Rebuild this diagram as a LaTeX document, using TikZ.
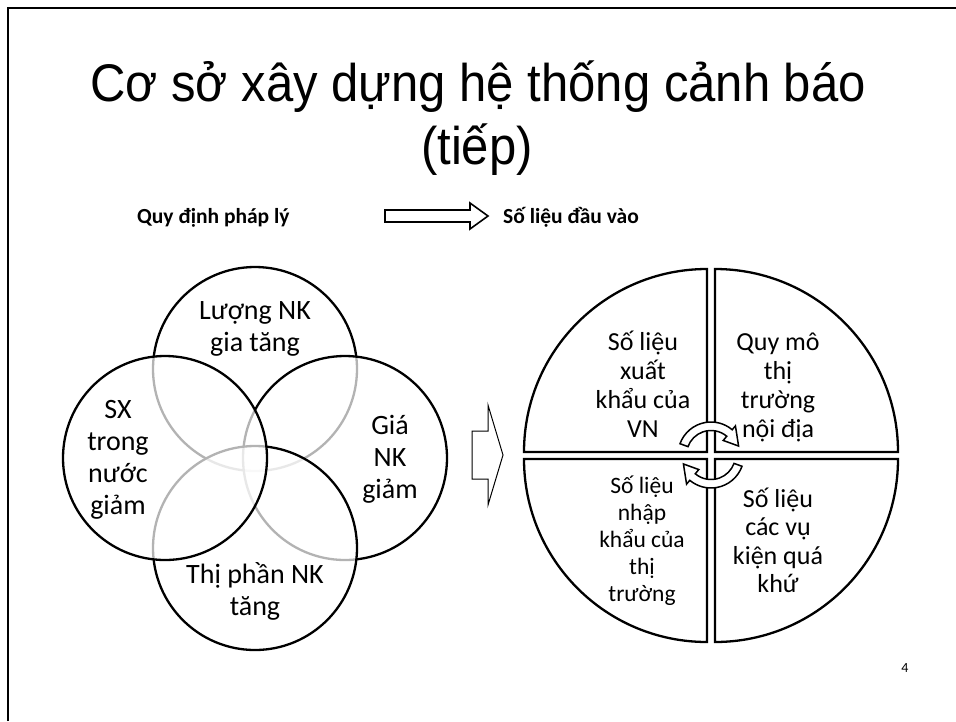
\documentclass[tikz,border=0pt]{standalone}
\usepackage{fontspec}
\setmainfont{Carlito}
\newfontfamily\titlefont{Liberation Sans}
\usetikzlibrary{calc}
\newcommand{\mlines}[1]{\parbox[t]{240pt}{\centering #1}}
\begin{document}
\begin{tikzpicture}[x=1pt,y=1pt,
 venncirc/.style={circle, draw=black, line width=2.3pt, fill=white, fill opacity=0.7, minimum size=204pt, inner sep=0pt},
 vtext/.style={anchor=base, inner sep=0pt, font=\fontsize{28}{32}\selectfont},
 qtext/.style={anchor=base, inner sep=0pt, font=\fontsize{26}{29}\selectfont},
 quad/.style={draw=black, line width=2.3pt, fill=white},
 hdr/.style={anchor=base west, inner sep=0pt, font=\bfseries\fontsize{21.5}{24}\selectfont},
 blockarrow/.style={draw=black, line width=1pt, fill=white, line join=miter},
 cyc/.style={draw=black, line width=1.5pt, fill=white, line join=miter},
 ttl/.style={anchor=base, inner sep=0pt, font=\titlefont\fontsize{53}{60}\selectfont}]
\useasboundingbox (0,0) rectangle (956,-721);
\fill[white] (0,0) rectangle (956,-721);
% frame
\draw[line width=2.5pt] (8,-721) -- (8,-8) -- (956,-8);
% title
\node[ttl] (title1) at (478,-101) {\scalebox{0.925}[1]{Cơ sở xây dựng hệ thống cảnh báo}};
\node[ttl] (title2) at (477,-164) {\scalebox{0.925}[1]{(tiếp)}};
% header
\node[hdr] (hleft) at (137,-223) {Quy định pháp lý};
\node[hdr] (hright) at (503,-223) {Số liệu đầu vào};
\draw[blockarrow, line width=1.6pt] (385,-210) -- (470,-210) -- (470,-203) -- (488,-216) -- (470,-229) -- (470,-222) -- (385,-222) -- cycle;
% venn
\node[venncirc] (ctop) at (255,-369) {};
\node[venncirc] (cright) at (345,-458) {};
\node[venncirc] (cbottom) at (255,-548) {};
\node[venncirc] (cleft) at (165,-458) {};
\node[vtext] (ttop) at (255,-319) {\mlines{Lượng NK\\gia tăng}};
\node[vtext] (tleft) at (118,-418) {\mlines{SX\\trong\\nước\\giảm}};
\node[vtext] (tright) at (390,-434) {\mlines{Giá\\NK\\giảm}};
\node[vtext] (tbottom) at (255,-583) {\mlines{Thị phần NK\\tăng}};
% middle arrow
\draw[blockarrow] (472,-431) -- (488,-431) -- (488,-405) -- (503,-455) -- (488,-505) -- (488,-479) -- (472,-479) -- cycle;
% pie quadrants
\draw[quad] (707,-452) -- ++(-183,0) arc[start angle=180, end angle=90, radius=183] -- cycle;
\draw[quad] (715,-452) -- ++(0,183) arc[start angle=90, end angle=0, radius=183] -- cycle;
\draw[quad] (707,-459) -- ++(-183,0) arc[start angle=180, end angle=270, radius=183] -- cycle;
\draw[quad] (715,-459) -- ++(183,0) arc[start angle=0, end angle=-90, radius=183] -- cycle;
\node[qtext] (qtl) at (643,-350) {\mlines{Số liệu\\xuất\\khẩu của\\VN}};
\node[qtext] (qtr) at (778,-350) {\mlines{Quy mô\\thị\\trường\\nội địa}};
\node[qtext, font=\fontsize{23.5}{27}\selectfont] (qbl) at (642,-493) {\mlines{Số liệu\\nhập\\khẩu của\\thị\\trường}};
\node[qtext, font=\fontsize{26}{28.5}\selectfont] (qbr) at (778,-507) {\mlines{Số liệu\\các vụ\\kiện quá\\khứ}};
% cycle arrows
\coordinate (pc) at (711,-455);
\draw[cyc] ($(pc)+(160:33)$) arc[start angle=160, end angle=50, radius=33] -- ($(pc)+(50:38)$) -- ($(pc)+(18:29)$) -- ($(pc)+(50:19)$) -- ($(pc)+(50:24.5)$) arc[start angle=50, end angle=160, radius=24.5] -- cycle;
\draw[cyc] ($(pc)+(-20:33)$) arc[start angle=-20, end angle=-130, radius=33] -- ($(pc)+(-130:38)$) -- ($(pc)+(-162:29)$) -- ($(pc)+(-130:19)$) -- ($(pc)+(-130:24.5)$) arc[start angle=-130, end angle=-20, radius=24.5] -- cycle;
% page number
\node[font=\fontsize{14}{16}\selectfont] (pnum) at (905,-668) {4};
\end{tikzpicture}
\end{document}
